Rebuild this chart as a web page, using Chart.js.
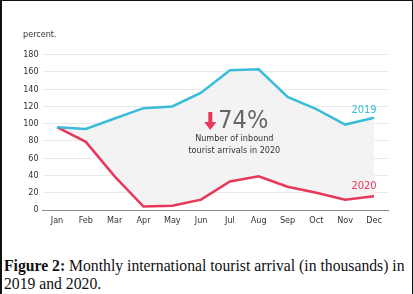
<!DOCTYPE html>
<html>
<head>
<meta charset="utf-8">
<script src="https://cdn.jsdelivr.net/npm/chart.js@4"></script>
<style>
  html, body { margin: 0; padding: 0; background: #fff; }
  #frame {
    position: absolute; left: 0; top: 0; width: 410px; height: 294px;
    border-left: 2px solid #111; border-top: 1px solid #111; border-right: 2px solid #111;
    box-sizing: content-box;
  }
  #chart { position: absolute; left: 0; top: 0; }
  #caption {
    position: absolute; left: 4px; top: 257px; width: 405px;
    font-family: "Liberation Serif", "DejaVu Serif", serif;
    font-size: 15.7px; line-height: 18px; color: #111; white-space: nowrap;
  }
</style>
</head>
<body>
<div id="frame"></div>
<canvas id="chart" width="413" height="235"></canvas>
<div id="caption"><b>Figure 2:</b> Monthly international tourist arrival (in thousands) in<br>2019 and 2020.</div>
<script>
var months = ['Jan', 'Feb', 'Mar', 'Apr', 'May', 'Jun', 'Jul', 'Aug', 'Sep', 'Oct', 'Nov', 'Dec'];
var arrivals2019 = [96, 94, 106, 118, 120, 136, 162, 163, 131, 117, 99, 107];
var arrivals2020 = [96, 79, 39, 4, 5, 12, 33, 39, 27, 20, 12, 16];
var seriesNames = ['2019', '2020'];

var blue = '#3bbcd8';
var red = '#e8375b';
var narrow = '"Liberation Sans Narrow", "DejaVu Sans Condensed", "Liberation Sans", sans-serif';

// texte en plus : labels des séries, le -74% et "percent."
var notes = {
    id: 'notes',
    afterDatasetsDraw: function(chart) {
        const ctx = chart.ctx;
        const xs = chart.scales.x, ys = chart.scales.y;
        ctx.save();
        ctx.textAlign = 'left';
        ctx.textBaseline = 'middle';
        ctx.fillStyle = '#333';
        ctx.font = '9px ' + narrow;
        ctx.fillText('percent.', 23, 35);

        // noms des séries au bout des lignes
        ctx.textAlign = 'center';
        ctx.font = '11px ' + narrow;
        ctx.fillStyle = blue;
        ctx.fillText(seriesNames[0], xs.getPixelForValue(11) - 10, ys.getPixelForValue(116));
        ctx.fillStyle = red;
        ctx.fillText(seriesNames[1], xs.getPixelForValue(11) - 10, ys.getPixelForValue(28));

        // fleche + 74%
        const cx = (xs.getPixelForValue(6) + xs.getPixelForValue(7)) / 2 - 12;
        const cy = ys.getPixelForValue(102);
        ctx.fillStyle = red;
        ctx.fillRect(cx - 24, cy - 10, 4, 11);
        ctx.beginPath();
        ctx.moveTo(cx - 28, cy);
        ctx.lineTo(cx - 16, cy);
        ctx.lineTo(cx - 22, cy + 8);
        ctx.closePath();
        ctx.fill();
        ctx.fillStyle = '#666';
        ctx.font = '300 25px ' + narrow;
        ctx.textAlign = 'left';
        ctx.fillText('74%', cx - 14, cy);
        ctx.textAlign = 'center';
        ctx.fillStyle = '#333';
        ctx.font = '9px ' + narrow;
        ctx.fillText('Number of inbound', cx + 2, cy + 17);
        ctx.fillText('tourist arrivals in 2020', cx + 2, cy + 29);
        ctx.restore();
    }
};

new Chart(document.getElementById('chart'), {
    type: 'line',
    data: {
        labels: months,
        datasets: [{
            label: seriesNames[0],
            data: arrivals2019,
            borderColor: blue,
            borderWidth: 2.5,
            pointRadius: 0,
            tension: 0,
            fill: false
        }, {
            label: seriesNames[1],
            data: arrivals2020,
            borderColor: red,
            backgroundColor: '#f3f3f3',
            borderWidth: 2.5,
            pointRadius: 0,
            tension: 0,
            fill: '-1'
        }]
    },
    options: {
        responsive: false,
        animation: false,
        layout: { padding: { top: 54.7, left: 0, right: 24.6, bottom: 0 } },
        plugins: {
            legend: { display: false },
            tooltip: { enabled: false },
            filler: { drawTime: 'beforeDatasetsDraw' }
        },
        scales: {
            x: {
                offset: true,
                grid: { display: false, drawTicks: false },
                border: { display: true, color: '#888', width: 1 },
                ticks: { color: '#333', font: { family: narrow, size: 9 }, padding: 5, maxRotation: 0 },
                afterFit: function(s) { s.height = 25; }
            },
            y: {
                min: 0, max: 180,
                grid: { color: '#e9e9e9', drawTicks: false },
                border: { display: false },
                ticks: { stepSize: 20, color: '#333', font: { family: narrow, size: 9 }, padding: 4 },
                afterFit: function(s) { s.width = 42.6; }
            }
        }
    },
    plugins: [notes]
});
</script>
</body>
</html>
